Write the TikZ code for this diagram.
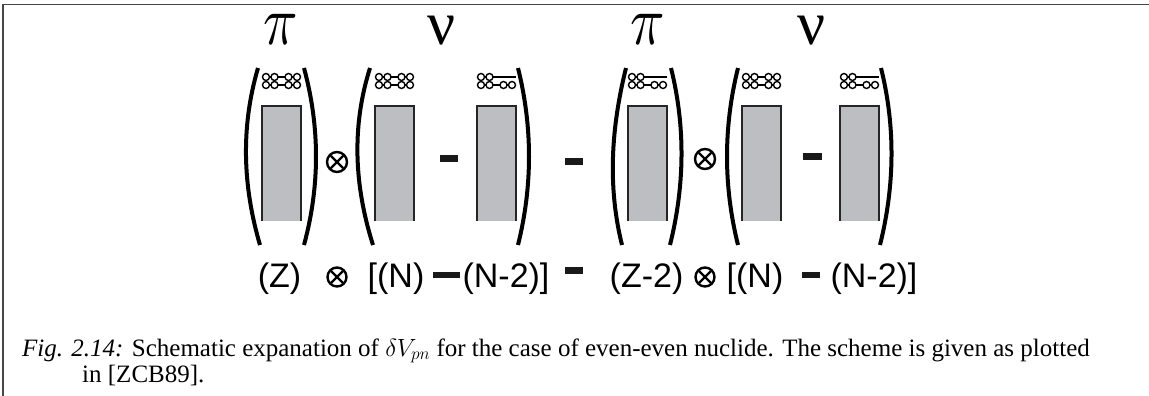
\documentclass[tikz,border=0pt]{standalone}
\usepackage{fontspec}
\setmainfont{Liberation Serif}
\newfontfamily\lsans{Liberation Sans}
\usetikzlibrary{calc}
\definecolor{boxgray}{RGB}{189,190,194}
\definecolor{framegray}{RGB}{70,70,70}
\tikzset{
  parenline/.style={line width=4pt},
  barbox/.style={draw=black!85,line width=1.6pt},
  orbit/.style={draw=black,fill=white,line width=1.4pt},
  orbline/.style={line width=1.5pt},
  otimes/.style={line width=2.4pt},
  minusbar/.style={fill=black!90},
  greek/.style={font=\fontsize{10}{10}\selectfont,anchor=base,inner sep=0pt,text height=30pt,text depth=0pt},
  greekup/.style={font=\fontsize{62}{62}\selectfont,anchor=base,inner sep=0pt,text height=30pt,text depth=0pt},
  lab/.style={font=\lsans\fontsize{34}{34}\selectfont,anchor=base,inner sep=0pt},
  captext/.style={font=\fontsize{25}{29}\selectfont,anchor=base west,inner sep=0pt}
}
% paren: top x, bottom x, signed bulge
\newcommand\myparen[3]{%
  \draw[parenline] (#1,68) .. controls ({#1+1.333*(#3)},127) and ({#2+1.333*(#3)},186) .. (#2,245);}
% gray box with open bottom, left edge L
\newcommand\mybox[1]{%
  \fill[boxgray] (#1,106) rectangle ({#1+39},221);
  \draw[barbox] (#1,221) -- (#1,106) -- ({#1+39},106) -- ({#1+39},221);}
% full level scheme 88-88
\newcommand\orbfull[1]{%
  \draw[orbline] ({#1+4},77) -- ({#1+35},77);
  \draw[orbline] ({#1+4},85) -- ({#1+35},85);
  \foreach \cx in {4,12.5,26.5,35}{
    \draw[orbit] ({#1+\cx},77) circle (3.5);
    \draw[orbit] ({#1+\cx},85) circle (3.5);}}
% half level scheme 88-oo
\newcommand\orbhalf[1]{%
  \draw[orbline] ({#1+4},77) -- ({#1+39},77);
  \draw[orbline] ({#1+4},85) -- ({#1+35},85);
  \foreach \cx in {4,12.5}{\draw[orbit] ({#1+\cx},77) circle (3.5);}
  \foreach \cx in {4,12.5,26.5,35}{\draw[orbit] ({#1+\cx},85) circle (3.5);}}
\newcommand\myotimes[3]{%
  \draw[otimes] (#1,#2) circle (#3);
  \draw[otimes] ($(#1,#2)+(-0.62*#3,-0.62*#3)$) -- ($(#1,#2)+(0.62*#3,0.62*#3)$);
  \draw[otimes] ($(#1,#2)+(-0.62*#3,0.62*#3)$) -- ($(#1,#2)+(0.62*#3,-0.62*#3)$);}
\begin{document}
\begin{tikzpicture}[x=1pt,y=-1pt]
\useasboundingbox (0,0) rectangle (1149,396);
% frame
\draw[framegray,line width=1.6pt] (3,396) -- (3,4.5) -- (1149,4.5);
% greek letters
\node[greek] (pi1) at (281,45) {\scalebox{5.7}[7]{$\pi$}};
\node[greekup] (nu1) at (442,45) {ν};
\node[greek] (pi2) at (648,45) {\scalebox{5.7}[7]{$\pi$}};
\node[greekup] (nu2) at (812,45) {ν};
% boxes
\mybox{262}\orbfull{262}
\mybox{375}\orbfull{375}
\mybox{477}\orbhalf{477}
\mybox{628}\orbhalf{628}
\mybox{742}\orbfull{742}
\mybox{840}\orbhalf{840}
% parentheses
\myparen{258}{260}{-13}
\myparen{304}{304}{12}
\myparen{370}{373}{-14}
\myparen{518}{518}{11}
\myparen{626}{622}{-11}
\myparen{671}{670}{11}
\myparen{738}{738}{-11}
\myparen{881}{880}{11}
% operators top
\myotimes{337}{162}{10}
\myotimes{705}{159}{10}
\fill[minusbar] (440,155) rectangle (458,162);
\fill[minusbar] (565,158) rectangle (583,165);
\fill[minusbar] (803,153) rectangle (822,160);
% bottom labels
\node[lab] (z) at (279.5,287) {(Z)};
\myotimes{337}{277}{9.5}
\node[lab] (n1) at (396,287) {[(N)};
\fill[minusbar] (433,272) rectangle (460,278);
\node[lab] (nm1) at (506,287) {(N-2)]};
\fill[minusbar] (565,267) rectangle (583,274);
\node[lab] (z2) at (646.5,287) {(Z-2)};
\myotimes{705}{277}{9.5}
\node[lab] (n2) at (755,287) {[(N)};
\fill[minusbar] (802,272) rectangle (820,278);
\node[lab] (nm2) at (874,287) {(N-2)]};
% caption
\node[captext] (c1) at (22,356) {\textit{Fig. 2.14:} Schematic expanation of $\delta V_{pn}$ for the case of even-even nuclide. The scheme is given as plotted};
\node[captext] (c2) at (82,382) {in [ZCB89].};
\end{tikzpicture}
\end{document}
